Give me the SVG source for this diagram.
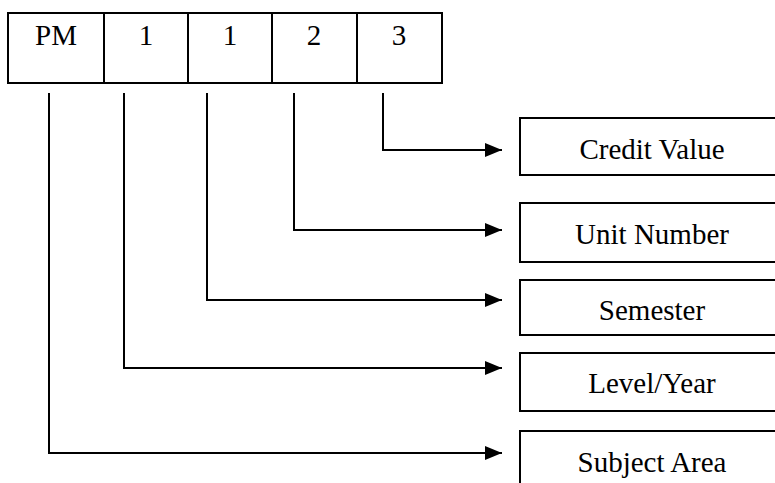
<svg xmlns="http://www.w3.org/2000/svg" width="775" height="483" viewBox="0 0 775 483">
<style>
.box{fill:#fff;stroke:#000;stroke-width:2}
.ln{fill:none;stroke:#000;stroke-width:2}
.t{font-family:'Liberation Serif','DejaVu Serif','Times New Roman',Times,serif;font-size:29px;fill:#000;text-anchor:middle}
</style>
<defs>
<marker id="ah" viewBox="0 0 17 14" refX="17" refY="7" markerWidth="17" markerHeight="14" markerUnits="userSpaceOnUse" orient="auto">
<path d="M0,0 L17,7 L0,14 Z" fill="#000"/>
</marker>
</defs>
<rect width="775" height="483" fill="#fff"/>
<g id="code">
<rect class="box" x="8" y="13" width="434" height="70"/>
<line class="ln" x1="104" y1="13" x2="104" y2="83"/>
<line class="ln" x1="188" y1="13" x2="188" y2="83"/>
<line class="ln" x1="272" y1="13" x2="272" y2="83"/>
<line class="ln" x1="357" y1="13" x2="357" y2="83"/>
<text class="t" x="56" y="45">PM</text>
<text class="t" x="146" y="45">1</text>
<text class="t" x="230" y="45">1</text>
<text class="t" x="314" y="45">2</text>
<text class="t" x="399" y="45">3</text>
</g>
<g id="credit"><rect class="box" x="520" y="118" width="270" height="57"/><text class="t" x="652" y="159">Credit Value</text></g>
<g id="unit"><rect class="box" x="520" y="203" width="270" height="59"/><text class="t" x="652" y="244">Unit Number</text></g>
<g id="semester"><rect class="box" x="520" y="280" width="270" height="55"/><text class="t" x="652" y="320">Semester</text></g>
<g id="level"><rect class="box" x="520" y="353" width="270" height="58"/><text class="t" x="652" y="393">Level/Year</text></g>
<g id="subject"><rect class="box" x="520" y="431" width="270" height="70"/><text class="t" x="652" y="472">Subject Area</text></g>
<g id="connectors">
<path class="ln" d="M383,93 V150 H502" marker-end="url(#ah)"/>
<path class="ln" d="M294,93 V230 H502" marker-end="url(#ah)"/>
<path class="ln" d="M207,93 V300 H502" marker-end="url(#ah)"/>
<path class="ln" d="M124,93 V368 H502" marker-end="url(#ah)"/>
<path class="ln" d="M49,93 V453 H502" marker-end="url(#ah)"/>
</g>
</svg>
